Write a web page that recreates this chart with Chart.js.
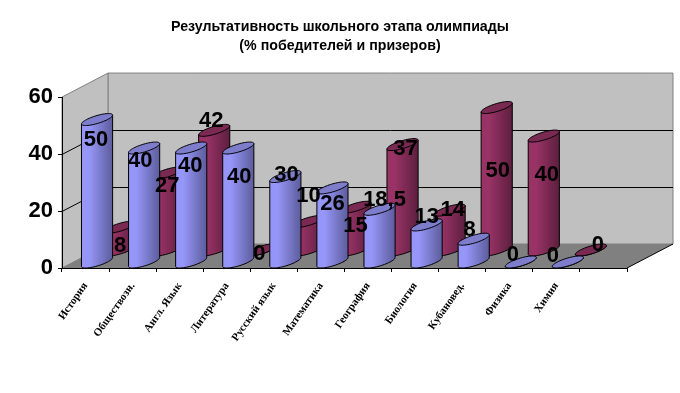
<!DOCTYPE html>
<html>
<head>
<meta charset="utf-8">
<title>Результативность школьного этапа олимпиады</title>
<script src="https://cdn.jsdelivr.net/npm/chart.js@4"></script>
<style>
    html, body { margin: 0; padding: 0; background: #fff; }
    canvas { display: block; }
</style>
</head>
<body>
<canvas id="chart" width="680" height="393"></canvas>
<script>
    const categories = ["История", "Обществозн.", "Англ. Язык", "Литература", "Русский язык", "Математика", "География", "Биология", "Кубановед.", "Физика", "Химия", ""];
    const winners = [50, 40, 40, 40, 30, 26, 18.5, 13, 8, 0, 0];
    const prizeTakers = [8, 27, 42, 0, 10, 15, 37, 14, 50, 40, 0];
    const valueTicks = [0, 20, 40, 60];

    // the labels were moved by hand in the original, so each one has its own nudge
    const winnerNudge = [[-1, 20], [-4, 13], [-1, 18], [1, 29], [1, -2], [0, 16], [5, -9], [0, -8], [-4, -9], [-8, -7], [-15, -6]];
    const prizeNudge = [[0, 19], [0, 13], [-3, -9], [-2, 4], [0, -26], [0, 19], [3, 4], [3, 0], [1, 63], [3, 39], [7, -5]];

    // oblique depth of the whole box, split in two rows
    const DEPTH_X = 46;
    const DEPTH_Y = 24;
    const CYL_W = 21;

    const LABEL_FONT = 'bold 22px "Liberation Sans", Arial, sans-serif';

    function ellipsePoint(cx, cy, t) {
        return [
            cx + (CYL_W / 2) * Math.cos(t) + (DEPTH_X / 4) * Math.sin(t),
            cy - (DEPTH_Y / 4) * Math.sin(t),
        ];
    }

    function drawCylinder(ctx, cx, baseY, topY, colors) {
        const tStar = Math.atan2(DEPTH_X / 2, CYL_W);
        const left = ellipsePoint(cx, topY, tStar + Math.PI);
        const right = ellipsePoint(cx, topY, tStar);

        const grad = ctx.createLinearGradient(left[0], 0, right[0], 0);
        grad.addColorStop(0, colors.light);
        grad.addColorStop(0.25, colors.light);
        grad.addColorStop(1, colors.dark);

        ctx.beginPath();
        ctx.moveTo(left[0], left[1]);
        for (let i = 0; i <= 30; i++) {
            const p = ellipsePoint(cx, baseY, tStar + Math.PI + (Math.PI * i) / 30);
            ctx.lineTo(p[0], p[1]);
        }
        ctx.lineTo(right[0], right[1]);
        ctx.closePath();
        ctx.fillStyle = grad;
        ctx.fill();
        ctx.strokeStyle = "#000";
        ctx.lineWidth = 1;
        ctx.stroke();

        ctx.beginPath();
        for (let i = 0; i < 60; i++) {
            const p = ellipsePoint(cx, topY, (Math.PI * 2 * i) / 60);
            if (i === 0) ctx.moveTo(p[0], p[1]);
            else ctx.lineTo(p[0], p[1]);
        }
        ctx.closePath();
        ctx.fillStyle = colors.top;
        ctx.fill();
        ctx.stroke();
    }

    function drawRow(chart, datasetIndex, rowFraction, colors) {
        const ctx = chart.ctx;
        const xs = chart.scales.x;
        const ys = chart.scales.y;
        const values = chart.data.datasets[datasetIndex].data;
        const shiftX = DEPTH_X * rowFraction;
        const shiftY = DEPTH_Y * rowFraction;
        values.forEach(function (v, i) {
            const cx = xs.getPixelForValue(i) + shiftX;
            drawCylinder(ctx, cx, ys.getPixelForValue(0) - shiftY, ys.getPixelForValue(v) - shiftY, colors);
        });
    }

    function drawRowLabels(chart, datasetIndex, rowFraction, nudge) {
        const ctx = chart.ctx;
        const xs = chart.scales.x;
        const ys = chart.scales.y;
        ctx.font = LABEL_FONT;
        ctx.fillStyle = "#000";
        ctx.textAlign = "center";
        ctx.textBaseline = "middle";
        chart.data.datasets[datasetIndex].data.forEach(function (v, i) {
            const cx = xs.getPixelForValue(i) + DEPTH_X * rowFraction + nudge[i][0];
            const cy = ys.getPixelForValue(v) - DEPTH_Y * rowFraction + nudge[i][1];
            ctx.fillText(String(v).replace(".", ","), cx, cy);
        });
    }

    function fillPoly(ctx, pts, fill, stroke) {
        ctx.beginPath();
        pts.forEach(function (p, i) {
            if (i === 0) ctx.moveTo(p[0], p[1]);
            else ctx.lineTo(p[0], p[1]);
        });
        ctx.closePath();
        ctx.fillStyle = fill;
        ctx.fill();
        if (stroke) {
            ctx.strokeStyle = stroke;
            ctx.lineWidth = 1;
            ctx.stroke();
        }
    }

    const box3d = {
        id: "box3d",
        beforeDraw: function (chart) {
            const ctx = chart.ctx;
            const ys = chart.scales.y;
            const a = chart.chartArea;
            ctx.save();
            // back wall, side wall, floor
            fillPoly(ctx, [[a.left + DEPTH_X, a.top - DEPTH_Y], [a.right + DEPTH_X, a.top - DEPTH_Y], [a.right + DEPTH_X, a.bottom - DEPTH_Y], [a.left + DEPTH_X, a.bottom - DEPTH_Y]], "#c0c0c0", "#808080");
            fillPoly(ctx, [[a.left, a.top], [a.left + DEPTH_X, a.top - DEPTH_Y], [a.left + DEPTH_X, a.bottom - DEPTH_Y], [a.left, a.bottom]], "#c0c0c0", "#808080");
            fillPoly(ctx, [[a.left, a.bottom], [a.left + DEPTH_X, a.bottom - DEPTH_Y], [a.right + DEPTH_X, a.bottom - DEPTH_Y], [a.right, a.bottom]], "#808080");

            ctx.strokeStyle = "#000";
            ctx.lineWidth = 1;
            valueTicks.forEach(function (t) {
                if (t === 0 || t === 60) return;
                const y = Math.round(ys.getPixelForValue(t)) + 0.5;
                ctx.beginPath();
                ctx.moveTo(a.left, y);
                ctx.lineTo(a.left + DEPTH_X, y - DEPTH_Y);
                ctx.lineTo(a.right + DEPTH_X, y - DEPTH_Y);
                ctx.stroke();
            });

            ctx.beginPath();
            ctx.moveTo(a.right, a.bottom);
            ctx.lineTo(a.right + DEPTH_X, a.bottom - DEPTH_Y);
            ctx.stroke();
            ctx.restore();
        },
        afterDatasetsDraw: function (chart) {
            const ctx = chart.ctx;
            ctx.save();
            drawRow(chart, 1, 0.75, { light: "#993366", dark: "#5c1f3e", top: "#7a2952" });
            drawRow(chart, 0, 0.25, { light: "#9696f8", dark: "#5c5c9c", top: "#7d7dcc" });
            drawRowLabels(chart, 1, 0.75, prizeNudge);
            drawRowLabels(chart, 0, 0.25, winnerNudge);
            ctx.restore();
        },
    };

    new Chart(document.getElementById("chart"), {
        type: "bar",
        data: {
            labels: categories,
            datasets: [
                { label: "Победители", data: winners, backgroundColor: "transparent", borderWidth: 0 },
                { label: "Призеры", data: prizeTakers, backgroundColor: "transparent", borderWidth: 0 },
            ],
        },
        plugins: [box3d],
        options: {
            responsive: false,
            animation: false,
            events: [],
            scales: {
                x: {
                    afterFit: function (scale) { scale.height = 125; },
                    border: { color: "#000", width: 1 },
                    grid: { drawOnChartArea: false, color: "#000", tickLength: 4 },
                    ticks: {
                        autoSkip: false,
                        minRotation: 55,
                        maxRotation: 55,
                        padding: 8,
                        color: "#000",
                        font: { family: '"Liberation Serif", serif', size: 11, weight: "bold" },
                    },
                },
                y: {
                    min: 0,
                    max: 60,
                    afterFit: function (scale) { scale.width = 62; },
                    afterBuildTicks: function (scale) {
                        scale.ticks = valueTicks.map(function (v) { return { value: v }; });
                    },
                    border: { color: "#000", width: 1 },
                    grid: { drawOnChartArea: false, color: "#000", tickLength: 4 },
                    ticks: {
                        padding: 5,
                        color: "#000",
                        font: { family: '"Liberation Sans", Arial, sans-serif', size: 22, weight: "bold" },
                    },
                },
                // empty axis, only keeps room for the oblique depth so the title stays centred on the page
                spacer: {
                    position: "right",
                    afterFit: function (scale) { scale.width = 53; },
                    border: { display: false },
                    grid: { display: false },
                    ticks: { display: false },
                },
            },
            plugins: {
                legend: { display: false },
                tooltip: { enabled: false },
                title: {
                    display: true,
                    text: ["Результативность школьного этапа олимпиады", "(% победителей и призеров)"],
                    color: "#000",
                    font: { family: '"Liberation Sans", Arial, sans-serif', size: 14.2, weight: "bold", lineHeight: 1.34 },
                    padding: { top: 18, bottom: 41 },
                },
            },
        },
    });
</script>
</body>
</html>
